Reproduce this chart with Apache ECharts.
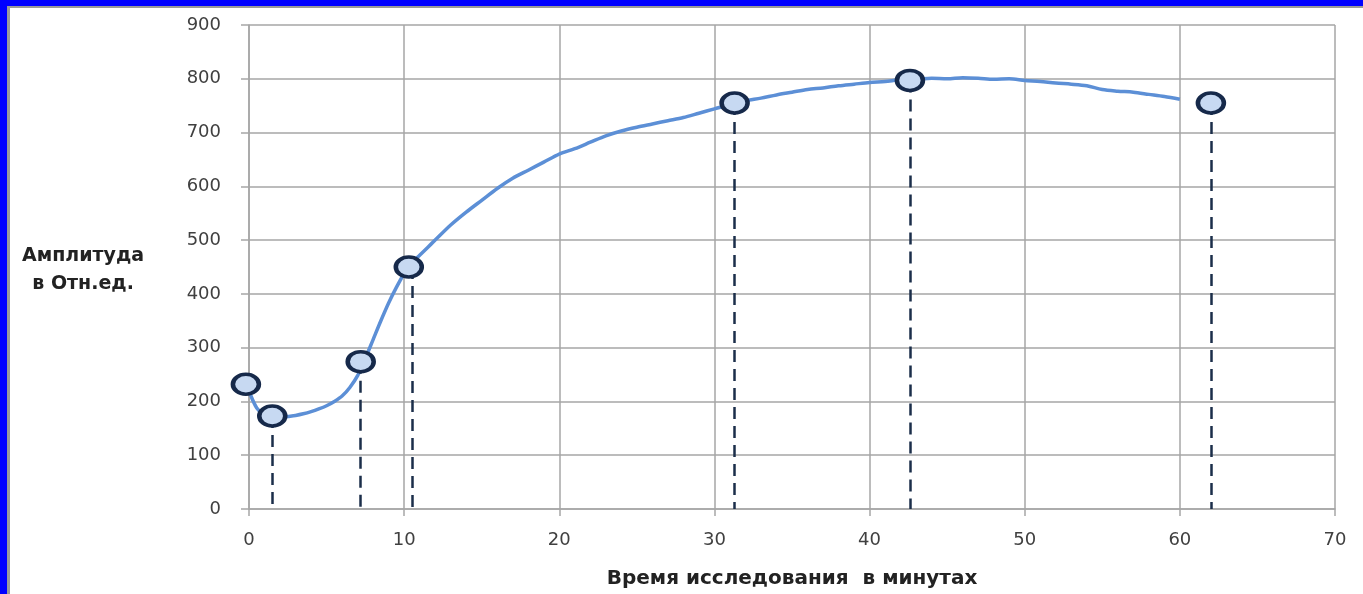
<!DOCTYPE html>
<html>
<head>
<meta charset="UTF-8">
<title>Амплитуда</title>
<script src="https://cdn.jsdelivr.net/npm/echarts@6/dist/echarts.min.js"></script>
<style>
  html, body { margin: 0; padding: 0; background: #fff; }
</style>
</head>
<body>
<div id="main" style="width:1363px;height:594px"></div>
<script type="text/javascript">
// measured curve (minutes, amplitude)
var curveX = [0.1, 0.5, 1, 1.5, 2, 2.5, 3, 3.5, 4, 4.5, 5, 5.5, 6, 6.5, 7, 7.5, 8, 8.5, 9, 9.5,
  10, 10.5, 11, 11.5, 12, 13, 14, 15, 16, 17, 18, 19, 20, 21, 22, 23, 24, 25, 26, 27, 28, 29,
  30, 31, 32, 33, 34, 35, 36, 37, 38, 39, 40, 41, 42, 43, 44, 45, 46, 47, 48, 49,
  50, 51, 52, 53, 54, 55, 56, 57, 58, 59, 60];
var curveY = [212, 188, 174, 170, 170, 172, 174, 177, 181, 186, 192, 200, 210, 226, 248, 280, 315, 350, 383, 412,
  438, 458, 472, 486, 500, 528, 552, 574, 596, 615, 630, 645, 660, 670, 682, 694, 703, 710, 716, 722, 728, 736,
  744, 752, 759, 764, 770, 775, 780, 783, 787, 790, 793, 795, 798, 799, 801, 800, 802, 801, 799, 800,
  797, 795, 792, 790, 787, 780, 777, 775, 771, 767, 762];

// highlighted points
var markerX = [-0.2, 1.5, 7.2, 10.3, 31.3, 42.6, 62];
var markerY = [232, 173, 274, 450, 755, 797, 755];

// dashed drop lines
var dropX = [1.5, 7.2, 10.5, 31.3, 42.6, 62];
var dropY = [173, 274, 450, 755, 797, 755];

var xTicks = [0, 10, 20, 30, 40, 50, 60, 70];
var yTicks = [0, 100, 200, 300, 400, 500, 600, 700, 800, 900];

var chart = echarts.init(document.getElementById('main'));

var curveData = curveX.map(function (x, i) { return [x, curveY[i]]; });
var markerData = markerX.map(function (x, i) { return [x, markerY[i]]; });
var dropLines = dropX.map(function (x, i) {
  return [{ coord: [x, dropY[i]] }, { coord: [x, 0] }];
});

var font = 'DejaVu Sans, sans-serif';

var option = {
  backgroundColor: '#ffffff',
  animation: false,
  grid: { left: 249, right: 28, top: 25, bottom: 84 },
  graphic: [
    { type: 'rect', shape: { x: 0, y: 0, width: 1363, height: 6 }, style: { fill: '#0000ff' } },
    { type: 'rect', shape: { x: 0, y: 6, width: 1363, height: 2 }, style: { fill: '#9a9a9a' } },
    { type: 'rect', shape: { x: 0, y: 0, width: 7, height: 594 }, style: { fill: '#0000ff' } },
    { type: 'rect', shape: { x: 7, y: 6, width: 3, height: 588 }, style: { fill: '#9a9a9a' } },
    {
      type: 'text', left: 22, top: 242,
      style: {
        text: 'Амплитуда\nв Отн.ед.', fill: '#222', font: 'bold 19px ' + font,
        textAlign: 'center', lineHeight: 28
      },
      x: 88, y: 0
    }
  ],
  xAxis: {
    type: 'value', min: 0, max: 70, interval: 10,
    name: 'Время исследования  в минутах',
    nameLocation: 'middle', nameGap: 60,
    nameTextStyle: { fontFamily: font, fontWeight: 'bold', fontSize: 20, color: '#222' },
    axisLine: { show: true, lineStyle: { color: '#a6a6a6', width: 1.5 } },
    axisTick: { show: true, length: 7, lineStyle: { color: '#a6a6a6', width: 1.5 } },
    axisLabel: { margin: 22, fontFamily: font, fontSize: 18, color: '#404040' },
    splitLine: { show: true, lineStyle: { color: '#a6a6a6', width: 1.5 } }
  },
  yAxis: {
    type: 'value', min: 0, max: 900, interval: 100,
    axisLine: { show: true, lineStyle: { color: '#a6a6a6', width: 1.5 } },
    axisTick: { show: true, length: 8, lineStyle: { color: '#a6a6a6', width: 1.5 } },
    axisLabel: { margin: 28, fontFamily: font, fontSize: 18, color: '#404040' },
    splitLine: { show: true, lineStyle: { color: '#a6a6a6', width: 1.5 } }
  },
  series: [
    {
      type: 'line',
      data: curveData,
      showSymbol: false,
      smooth: 0.3,
      lineStyle: { color: '#5c8fd6', width: 3.5 },
      z: 2,
      markLine: {
        silent: true,
        symbol: ['none', 'none'],
        label: { show: false },
        lineStyle: { color: '#1b2e4a', width: 2.5, type: [12, 7], opacity: 1 },
        data: dropLines
      }
    },
    {
      type: 'scatter',
      data: markerData,
      clip: false,
      symbol: 'circle',
      symbolSize: [26, 20],
      itemStyle: { color: '#c7d9f2', borderColor: '#16294a', borderWidth: 4, opacity: 1 },
      z: 5
    }
  ]
};

chart.setOption(option);
</script>
</body>
</html>
